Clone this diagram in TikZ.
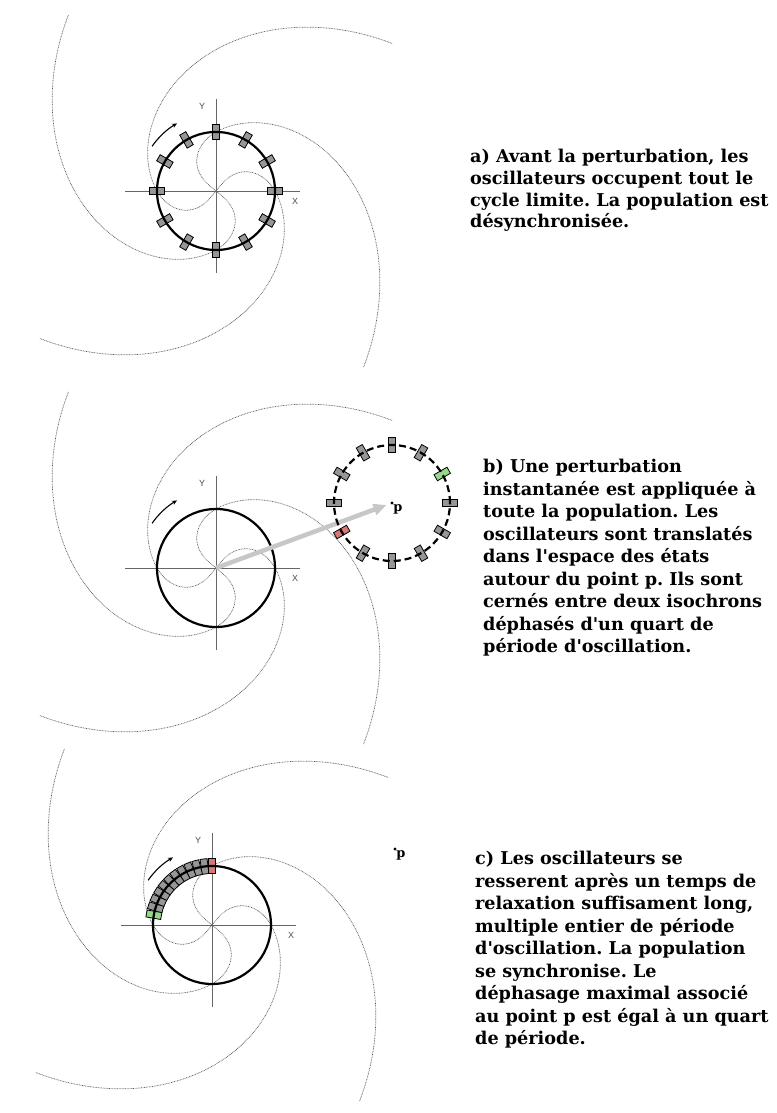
\documentclass[tikz,border=0pt]{standalone}
\usepackage{fontspec}
\setmainfont{DejaVu Serif}
\newfontfamily\axisfont{Liberation Sans}
\usetikzlibrary{arrows.meta}

\definecolor{oscgray}{RGB}{150,150,150}
\definecolor{oscred}{RGB}{214,120,120}
\definecolor{oscgreen}{RGB}{150,215,140}

\newcommand{\apos}{\textquotesingle}
\frenchspacing

% limit cycle plane: four isochrons, axes, sense of rotation
\newcommand{\phaseplane}[1]{%
  \foreach \ang in {0,90,180,270}
    \draw[isochron] plot[domain=0:59, samples=25, variable=\rr] ({\ang+51.5*(1-(\rr/59)^2)}:\rr)
      -- plot[domain=59:230, samples=70, variable=\rr] ({\ang-103*ln(\rr/59)}:\rr);
  \draw[axisline] (-91,0) -- (84,0);
  \draw[axisline] (0,-82) -- (0,92);
  \node[axislabel] (#1-x) at (79,-10) {X};
  \node[axislabel] (#1-y) at (-14,85) {Y};
  \draw[sense] (145:78) arc[start angle=145, end angle=120, radius=78];
}

\begin{document}
\begin{tikzpicture}[
    x=1bp, y=1bp,
    isochron/.style={black!65, line width=0.7bp, dash pattern=on 0.8bp off 0.8bp},
    axisline/.style={black!60, line width=0.8bp},
    axislabel/.style={font=\axisfont\fontsize{9}{9}\selectfont, text=black!70, inner sep=0pt},
    sense/.style={-{Stealth[length=5bp, width=4.5bp]}, line width=1.1bp},
    limit/.style={line width=2.2bp},
    translated/.style={limit, dash pattern=on 7bp off 4bp},
    osc/.style={draw, line width=0.8bp, fill=oscgray, minimum width=15bp, minimum height=7bp, inner sep=0pt},
    dotnode/.style={circle, fill, inner sep=0pt, minimum size=3.2bp},
    plabel/.style={font=\fontsize{13}{13}\selectfont\bfseries, inner sep=0pt},
    kick/.style={-{Triangle[length=13bp, width=11bp]}, black!22, line width=4.5bp, shorten >=4bp},
    caption/.style={anchor=base west, align=left, inner sep=0pt, font=\fontsize{17.7}{22.6}\selectfont\bfseries}
]
\useasboundingbox (0,0) rectangle (777,1113);

% a) before the perturbation
\begin{scope}[shift={(216,922)}]
  \phaseplane{a}
  \foreach \k in {0,...,11}
    \node[osc, rotate=30*\k] (a-osc-\k) at ({30*\k}:59) {};
  \draw[limit] (0,0) circle[radius=59];
\end{scope}
% base of a caption = baseline of its last line
\node[caption, font=\fontsize{17.7}{22}\selectfont\bfseries] (a-text) at (470,885) {a) Avant la perturbation, les\\
oscillateurs occupent tout le\\
cycle limite. La population est\\
désynchronisée.};

% b) instantaneous perturbation
\begin{scope}[shift={(216,545)}]
  \phaseplane{b}
  \draw[limit] (0,0) circle[radius=59];
  \coordinate (b-o) at (0,0);
  \node[dotnode] (b-p) at (176,65) {};
  \draw[kick] (b-o) -- (b-p);
  \begin{scope}[shift={(176,65)}]
    \foreach \k/\col in {0/oscgray,1/oscgreen,2/oscgray,3/oscgray,4/oscgray,5/oscgray,
                         6/oscgray,7/oscred,8/oscgray,9/oscgray,10/oscgray,11/oscgray}
      \node[osc, fill=\col, rotate=30*\k] (b-osc-\k) at ({30*\k}:58) {};
    \draw[translated] (0,0) circle[radius=58];
  \end{scope}
  \node[plabel, anchor=north west] (b-plabel) at (b-p.south east) {p};
\end{scope}
\node[caption] (b-text) at (483,460) {b) Une perturbation\\
instantanée est appliquée à\\
toute la population. Les\\
oscillateurs sont translatés\\
dans l\apos espace des états\\
autour du point p. Ils sont\\
cernés entre deux isochrons\\
déphasés d\apos un quart de\\
période d\apos oscillation.};

% c) after relaxation
\begin{scope}[shift={(212,188)}]
  \phaseplane{c}
  \foreach \k in {1,...,10}
    \node[osc, rotate=90+80*\k/11] (c-osc-\k) at ({90+80*\k/11}:59) {};
  \node[osc, fill=oscred, rotate=90] (c-osc-0) at (90:59) {};
  \node[osc, fill=oscgreen, rotate=170] (c-osc-11) at (170:59) {};
  \draw[limit] (0,0) circle[radius=59];
  \node[dotnode] (c-p) at (183,76) {};
  \node[plabel, anchor=north west] (c-plabel) at (c-p.south east) {p};
\end{scope}
\node[caption] (c-text) at (475,68) {c) Les oscillateurs se\\
resserent après un temps de\\
relaxation suffisament long,\\
multiple entier de période\\
d\apos oscillation. La population\\
se synchronise. Le\\
déphasage maximal associé\\
au point p est égal à un quart\\
de période.};

\end{tikzpicture}
\end{document}
